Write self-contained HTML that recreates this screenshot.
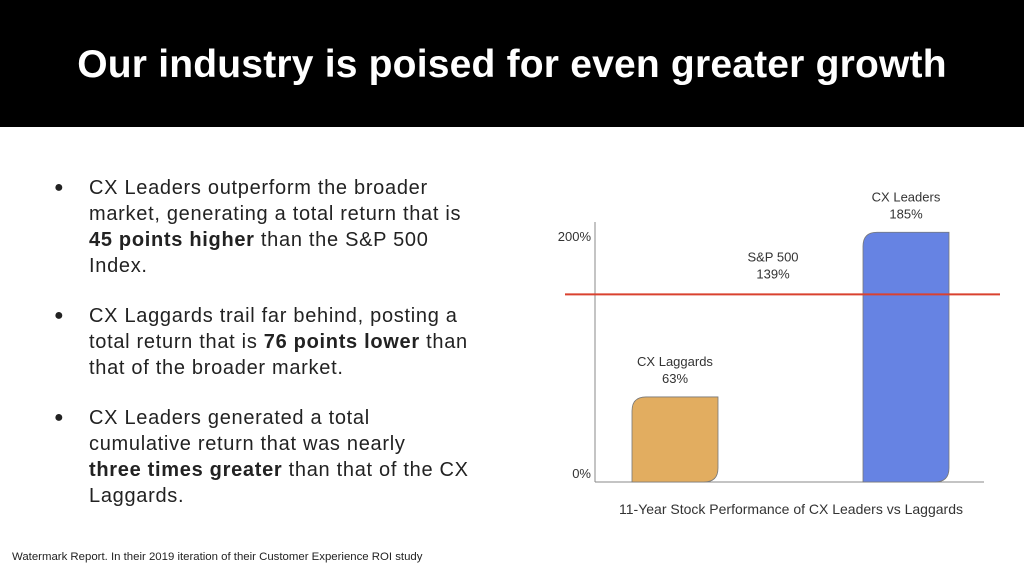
<!DOCTYPE html>
<html><head><meta charset="utf-8"><style>
body{margin:0;width:1024px;height:578px;background:#fff;position:relative;overflow:hidden;font-family:"Liberation Sans",sans-serif}
#title{position:absolute;left:0;top:0;width:1024px;height:127px;background:#000;color:#fff;font-weight:bold;font-size:39px;text-align:center;line-height:130px;letter-spacing:0.2px}
.l{position:absolute;left:89px;font-size:20px;letter-spacing:0.7px;color:#222;white-space:nowrap;height:26px;line-height:26px}
.b{position:absolute;left:54px;font-size:16px;color:#222;line-height:26px}
#foot{position:absolute;left:12px;top:551px;font-size:11.4px;color:#222}
</style></head><body>
<div id="title">Our industry is poised for even greater growth</div>
<div>
<div class="b" style="top:175px">●</div>
<div class="l" style="top:175px">CX Leaders outperform the broader</div>
<div class="l" style="top:201px">market, generating a total return that is</div>
<div class="l" style="top:227px"><b>45 points higher</b> than the S&amp;P 500</div>
<div class="l" style="top:253px">Index.</div>
<div class="b" style="top:303px">●</div>
<div class="l" style="top:303px">CX Laggards trail far behind, posting a</div>
<div class="l" style="top:329px">total return that is <b>76 points lower</b> than</div>
<div class="l" style="top:355px">that of the broader market.</div>
<div class="b" style="top:405px">●</div>
<div class="l" style="top:405px">CX Leaders generated a total</div>
<div class="l" style="top:431px">cumulative return that was nearly</div>
<div class="l" style="top:457px"><b>three times greater</b> than that of the CX</div>
<div class="l" style="top:483px">Laggards.</div>
</div>
<div id="foot">Watermark Report. In their 2019 iteration of their Customer Experience ROI study</div>
<svg id="chart" width="1024" height="578" style="position:absolute;left:0;top:0" font-family="Liberation Sans, sans-serif"></svg>
<script>
const categories=["CX Laggards","CX Leaders"];
const values=[63,185];
const benchmarkName="S&P 500";
const benchmarkValue=[139];
const tickValues=[0,200];
const tickLabels=["0%","200%"];
const caption="11-Year Stock Performance of CX Leaders vs Laggards";
const NS="http://www.w3.org/2000/svg";
const svg=document.getElementById('chart');
const base=482, scale=1.35;
const y=v=>base-v*scale;
const barX=[632,863], barW=86;
const colors=["#e2ad60","#6683e3"];
function el(t,a,txt){const e=document.createElementNS(NS,t);for(const k in a)e.setAttribute(k,a[k]);if(txt!=null)e.textContent=txt;svg.appendChild(e);return e;}
const ax=el('line',{x1:595,y1:222,x2:595,y2:base,stroke:'#888','stroke-width':1});


const xa=el('line',{x1:595,y1:base,x2:984,y2:base,stroke:'#888','stroke-width':1});


const tickY=[473,236];
tickValues.forEach((v,i)=>{const t=el('text',{x:591,y:tickY[i]+5,'text-anchor':'end','font-size':13,fill:'#333'},tickLabels[i]);

});
values.forEach((v,i)=>{
 const x0=barX[i],x1=x0+barW,t=y(v),r=14;
 const d=`M${x0} ${base}V${t+r}Q${x0} ${t} ${x0+r} ${t}H${x1}V${base-r}Q${x1} ${base} ${x1-r} ${base}Z`;
 const p=el('path',{d:d,fill:colors[i],stroke:'#777','stroke-width':0.8});
 
 
 const cx=x0+barW/2;
 const l1=el('text',{x:cx,y:t-31,'text-anchor':'middle','font-size':13,fill:'#333'},categories[i]);
 
 
 const l2=el('text',{x:cx,y:t-14,'text-anchor':'middle','font-size':13,fill:'#333'},v+'%');
 
 
});
const ry=y(benchmarkValue[0]);
const rl=el('line',{x1:565,y1:ry,x2:1000,y2:ry,stroke:'#d9412f','stroke-width':2});


const s1=el('text',{x:773,y:ry-33,'text-anchor':'middle','font-size':13,fill:'#333'},benchmarkName);


const s2=el('text',{x:773,y:ry-16,'text-anchor':'middle','font-size':13,fill:'#333'},benchmarkValue[0]+'%');


const c=el('text',{x:791,y:514,'text-anchor':'middle','font-size':14,fill:'#333'},caption);


</script>
</body></html>
